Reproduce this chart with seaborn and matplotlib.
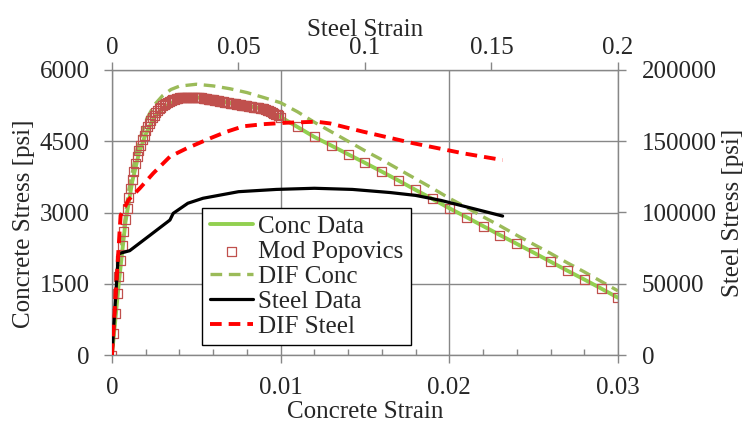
import matplotlib
matplotlib.use('Agg')
import matplotlib.pyplot as plt
import seaborn as sns
from matplotlib.ticker import FixedLocator, MultipleLocator

# Concrete curves (bottom / left axes)
pop_strain = [
    0.0000, 0.0001, 0.0002, 0.0003, 0.0004, 0.0005, 0.0006, 0.0007, 0.0008, 0.0009,
    0.0010, 0.0011, 0.0012, 0.0013, 0.0014, 0.0015, 0.0016, 0.0017, 0.0018, 0.0019,
    0.0020, 0.0021, 0.0022, 0.0023, 0.0024, 0.0025, 0.0026, 0.0027, 0.0028, 0.0029,
    0.0030, 0.0031, 0.0032, 0.0033, 0.0034, 0.0035, 0.0036, 0.0037, 0.0038, 0.0039,
    0.0040, 0.0041, 0.0042, 0.0043, 0.0044, 0.0045, 0.0046, 0.0047, 0.0048, 0.0049,
    0.0050, 0.0051, 0.0052, 0.0053, 0.0054, 0.0055, 0.0056, 0.0057, 0.0058, 0.0059,
    0.0060, 0.0061, 0.0062, 0.0063, 0.0064, 0.0065, 0.0066, 0.0067, 0.0068, 0.0069,
    0.0070, 0.0071, 0.0072, 0.0073, 0.0074, 0.0075, 0.0076, 0.0077, 0.0078, 0.0079,
    0.0080, 0.0081, 0.0082, 0.0083, 0.0084, 0.0085, 0.0086, 0.0087, 0.0088, 0.0089,
    0.0090, 0.0091, 0.0092, 0.0093, 0.0094, 0.0095, 0.0096, 0.0097, 0.0098, 0.0099,
    0.0100, 0.011, 0.012, 0.013, 0.014, 0.015, 0.016, 0.017, 0.018, 0.019,
    0.020, 0.021, 0.022, 0.023, 0.024, 0.025, 0.026, 0.027, 0.028, 0.029, 0.030,
]
pop_stress = [
    0, 450, 880, 1290, 1660, 2000, 2310, 2590, 2850, 3090,
    3310, 3510, 3700, 3870, 4030, 4170, 4300, 4420, 4530, 4630,
    4720, 4800, 4870, 4940, 5000, 5050, 5100, 5145, 5185, 5220,
    5250, 5278, 5302, 5324, 5344, 5360, 5374, 5386, 5396, 5404,
    5411, 5417, 5421, 5424, 5426, 5427, 5428, 5428, 5427, 5426,
    5425, 5421, 5416, 5411, 5406, 5400, 5394, 5388, 5382, 5376,
    5370, 5364, 5358, 5352, 5346, 5340, 5333, 5326, 5319, 5312,
    5305, 5299, 5293, 5287, 5281, 5275, 5269, 5263, 5257, 5251,
    5245, 5239, 5233, 5227, 5221, 5215, 5208, 5201, 5194, 5187,
    5180, 5168, 5155, 5141, 5126, 5110, 5092, 5073, 5053, 5032,
    5010, 4800, 4590, 4410, 4225, 4045, 3860, 3670, 3475, 3285,
    3090, 2905, 2715, 2525, 2340, 2155, 1965, 1775, 1590, 1400, 1205,
]

conc_strain = [0, 0.0004, 0.0008, 0.0012, 0.0016, 0.002, 0.0025, 0.003, 0.004,
               0.005, 0.006, 0.007, 0.008, 0.009, 0.010, 0.011, 0.012, 0.013,
               0.014, 0.015, 0.016, 0.017, 0.018, 0.019, 0.020, 0.021, 0.022,
               0.023, 0.024, 0.025, 0.026, 0.027, 0.028, 0.029, 0.030]
conc_stress = [0, 1500, 2800, 3650, 4250, 4650, 5000, 5200, 5390,
               5425, 5370, 5305, 5245, 5180, 5010, 4800, 4590, 4410,
               4225, 4045, 3860, 3670, 3475, 3285, 3090, 2905, 2715,
               2525, 2340, 2155, 1965, 1775, 1590, 1400, 1205]

dif_conc_strain = [0, 0.0005, 0.001, 0.0015, 0.002, 0.0025, 0.003, 0.0035, 0.004,
                   0.005, 0.006, 0.007, 0.008, 0.009, 0.010, 0.011, 0.012, 0.013,
                   0.014, 0.015, 0.016, 0.017, 0.018, 0.019, 0.020, 0.021, 0.022,
                   0.023, 0.024, 0.025, 0.026, 0.027, 0.028, 0.029, 0.030]
dif_conc_stress = [0, 2100, 3480, 4360, 4930, 5260, 5460, 5590, 5660,
                   5700, 5665, 5605, 5525, 5420, 5310, 5120, 4900, 4700,
                   4500, 4300, 4110, 3910, 3710, 3510, 3300, 3110, 2910,
                   2720, 2520, 2330, 2140, 1940, 1750, 1550, 1350]

# Steel curves (top / right axes)
steel_strain = [0, 0.0025, 0.0032, 0.0045, 0.007, 0.015, 0.0229, 0.0242, 0.030,
                0.036, 0.043, 0.050, 0.065, 0.080, 0.095, 0.110, 0.120, 0.130,
                0.140, 0.1544]
steel_stress = [0, 70500, 71400, 72000, 73200, 84000, 94700, 99400, 106500,
                110000, 112300, 114600, 116200, 117000, 116200, 114000, 112000,
                108500, 104000, 97500]

dif_steel_strain = [0, 0.0034, 0.0040, 0.0065, 0.011, 0.0163, 0.0229, 0.0295,
                    0.0387, 0.045, 0.0519, 0.060, 0.069, 0.0809, 0.0862, 0.0993,
                    0.1191, 0.1389, 0.1544]
dif_steel_stress = [0, 98000, 100000, 108800, 117000, 127500, 139200, 145000,
                    152000, 156500, 160500, 162000, 163000, 163700, 162500, 156700,
                    148600, 141500, 136800]

conc_xticks = [0, 0.01, 0.02, 0.03]
conc_xlabels = ['0', '0.01', '0.02', '0.03']
conc_yticks = [0, 1500, 3000, 4500, 6000]
steel_xticks = [0, 0.05, 0.1, 0.15, 0.2]
steel_xlabels = ['0', '0.05', '0.1', '0.15', '0.2']
steel_yticks = [0, 50000, 100000, 150000, 200000]

GREY = '#878787'

sns.set_style('white')
plt.rcParams['font.family'] = ['Liberation Serif', 'DejaVu Serif']

fig = plt.figure(figsize=(7.49, 4.25), dpi=100)
ax = fig.add_axes([0.1495, 0.1647, 0.6756, 0.6706])
ax2 = fig.add_axes([0.1495, 0.1647, 0.6756, 0.6706], facecolor='none')

# concrete
sns.lineplot(x=conc_strain, y=conc_stress, ax=ax, sort=False, estimator=None,
             color='#92D050', lw=2.8, label='Conc Data')
sns.scatterplot(x=pop_strain, y=pop_stress, ax=ax, marker='s', s=42,
                facecolor='none', edgecolor='#C0504D', linewidth=0.9,
                label='Mod Popovics', zorder=3)
sns.lineplot(x=dif_conc_strain, y=dif_conc_stress, ax=ax, sort=False, estimator=None,
             color='#9BBB59', lw=2.4, linestyle=(0, (3.5, 2)), label='DIF Conc')

# steel
sns.lineplot(x=steel_strain, y=steel_stress, ax=ax2, sort=False, estimator=None,
             color='black', lw=2.3, label='Steel Data')
sns.lineplot(x=dif_steel_strain, y=dif_steel_stress, ax=ax2, sort=False, estimator=None,
             color='#FF0000', lw=2.8, linestyle=(0, (3, 1.8)), label='DIF Steel')

for a in (ax, ax2):
    if a.get_legend() is not None:
        a.get_legend().remove()

# concrete axes
ax.set_xlim(0, 0.03)
ax.set_ylim(0, 6000)
ax.xaxis.set_major_locator(FixedLocator(conc_xticks))
ax.set_xticklabels(conc_xlabels)
ax.xaxis.set_minor_locator(MultipleLocator(0.002))
ax.yaxis.set_major_locator(FixedLocator(conc_yticks))
ax.grid(True, which='major', color=GREY, lw=1.0)
ax.tick_params(axis='both', which='major', direction='out', length=6, width=1,
               color=GREY, labelsize=18)
ax.tick_params(axis='x', which='major', pad=10, bottom=True)
ax.tick_params(axis='y', which='major', pad=10, left=True)
ax.tick_params(axis='x', which='minor', direction='in', length=4, width=1,
               color=GREY, bottom=True)
for side in ('top', 'right'):
    ax.spines[side].set_visible(False)
for side in ('left', 'bottom'):
    ax.spines[side].set_color(GREY)
    ax.spines[side].set_linewidth(1.0)
ax.set_xlabel('Concrete Strain', fontsize=18)
ax.set_ylabel('Concrete Stress [psi]', fontsize=18)
ax.xaxis.set_label_coords(0.5, -0.163)
ax.yaxis.set_label_coords(-0.152, 0.46)

# steel axes
ax2.set_xlim(0, 0.2)
ax2.set_ylim(0, 200000)
ax2.xaxis.tick_top()
ax2.yaxis.tick_right()
ax2.xaxis.set_label_position('top')
ax2.yaxis.set_label_position('right')
ax2.xaxis.set_major_locator(FixedLocator(steel_xticks))
ax2.set_xticklabels(steel_xlabels)
ax2.yaxis.set_major_locator(FixedLocator(steel_yticks))
ax2.grid(False)
ax2.tick_params(axis='both', which='major', direction='out', length=6, width=1,
                color=GREY, labelsize=18)
ax2.tick_params(axis='x', pad=2)
ax2.tick_params(axis='y', pad=11)
for side in ('left', 'bottom'):
    ax2.spines[side].set_visible(False)
for side in ('top', 'right'):
    ax2.spines[side].set_color(GREY)
    ax2.spines[side].set_linewidth(1.0)
ax2.set_xlabel('Steel Strain', fontsize=18)
ax2.set_ylabel('Steel Stress [psi]', fontsize=18)
ax2.xaxis.set_label_coords(0.5, 1.12)
ax2.yaxis.set_label_coords(1.2055, 0.498)

# combined legend
h1, l1 = ax.get_legend_handles_labels()
h2, l2 = ax2.get_legend_handles_labels()
handles = dict(zip(l1 + l2, h1 + h2))
order = ['Conc Data', 'Mod Popovics', 'DIF Conc', 'Steel Data', 'DIF Steel']
leg = ax2.legend([handles[k] for k in order], order, loc='upper left',
                 bbox_to_anchor=(0.178, 0.516), borderaxespad=0, fontsize=18,
                 frameon=True, fancybox=False, framealpha=1, edgecolor='black',
                 handlelength=1.75, handletextpad=0.18, labelspacing=0.1,
                 borderpad=0.3, scatterpoints=1)
leg.get_frame().set_linewidth(1.0)

fig.savefig('out.png', dpi=100)
